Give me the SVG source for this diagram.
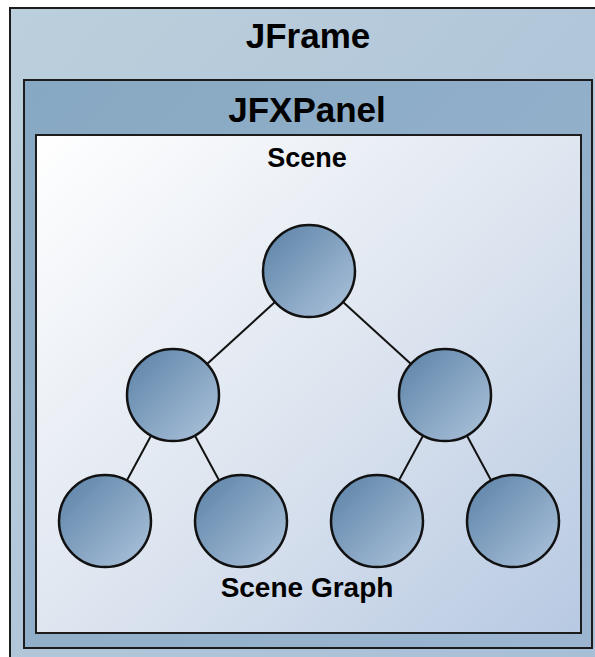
<svg xmlns="http://www.w3.org/2000/svg" width="595" height="657" viewBox="0 0 595 657">
<defs>
<linearGradient id="gFrame" x1="0" y1="0" x2="1" y2="1">
<stop offset="0" stop-color="#bccfdc"/>
<stop offset="1" stop-color="#a6bed6"/>
</linearGradient>
<linearGradient id="gPanel" x1="0" y1="0" x2="1" y2="1">
<stop offset="0" stop-color="#87a8c2"/>
<stop offset="1" stop-color="#9cb6d2"/>
</linearGradient>
<linearGradient id="gScene" x1="0" y1="0" x2="1" y2="1">
<stop offset="0" stop-color="#ffffff"/>
<stop offset="0.5" stop-color="#dfe6f0"/>
<stop offset="1" stop-color="#b7c9e2"/>
</linearGradient>
<linearGradient id="gNode" x1="0" y1="0" x2="1" y2="1">
<stop offset="0" stop-color="#5a81a6"/>
<stop offset="1" stop-color="#aec4dc"/>
</linearGradient>
<style>
.box{stroke:#1c1c1c;stroke-width:2}
.node{fill:url(#gNode);stroke:#111;stroke-width:2.5}
.edge{stroke:#111;stroke-width:2;fill:none}
.t{font-family:"Liberation Sans",Arial,sans-serif;font-weight:bold;fill:#000;text-anchor:middle}
</style>
</defs>
<rect width="595" height="657" fill="#ffffff"/>
<g id="jframe">
<rect class="box" x="10" y="8" width="600" height="670" fill="url(#gFrame)"/>
<text class="t" x="308" y="48" font-size="35">JFrame</text>
</g>
<g id="jfxpanel">
<rect class="box" x="24" y="80" width="568" height="568" fill="url(#gPanel)"/>
<text class="t" x="307" y="122" font-size="35">JFXPanel</text>
</g>
<g id="scene">
<rect class="box" x="36" y="135" width="545" height="498" fill="url(#gScene)"/>
<text class="t" x="307" y="167" font-size="27">Scene</text>
</g>
<g id="connectors">
<line class="edge" x1="309" y1="271" x2="173" y2="395"/>
<line class="edge" x1="309" y1="271" x2="445" y2="395"/>
<line class="edge" x1="173" y1="395" x2="105" y2="521"/>
<line class="edge" x1="173" y1="395" x2="241" y2="521"/>
<line class="edge" x1="445" y1="395" x2="377" y2="521"/>
<line class="edge" x1="445" y1="395" x2="513" y2="521"/>
</g>
<g id="node-root"><circle class="node" cx="309" cy="271" r="46"/></g>
<g id="node-l"><circle class="node" cx="173" cy="395" r="46"/></g>
<g id="node-r"><circle class="node" cx="445" cy="395" r="46"/></g>
<g id="node-ll"><circle class="node" cx="105" cy="521" r="46"/></g>
<g id="node-lr"><circle class="node" cx="241" cy="521" r="46"/></g>
<g id="node-rl"><circle class="node" cx="377" cy="521" r="46"/></g>
<g id="node-rr"><circle class="node" cx="513" cy="521" r="46"/></g>
<g id="scene-graph-label">
<text class="t" x="307" y="597" font-size="28">Scene Graph</text>
</g>
</svg>
